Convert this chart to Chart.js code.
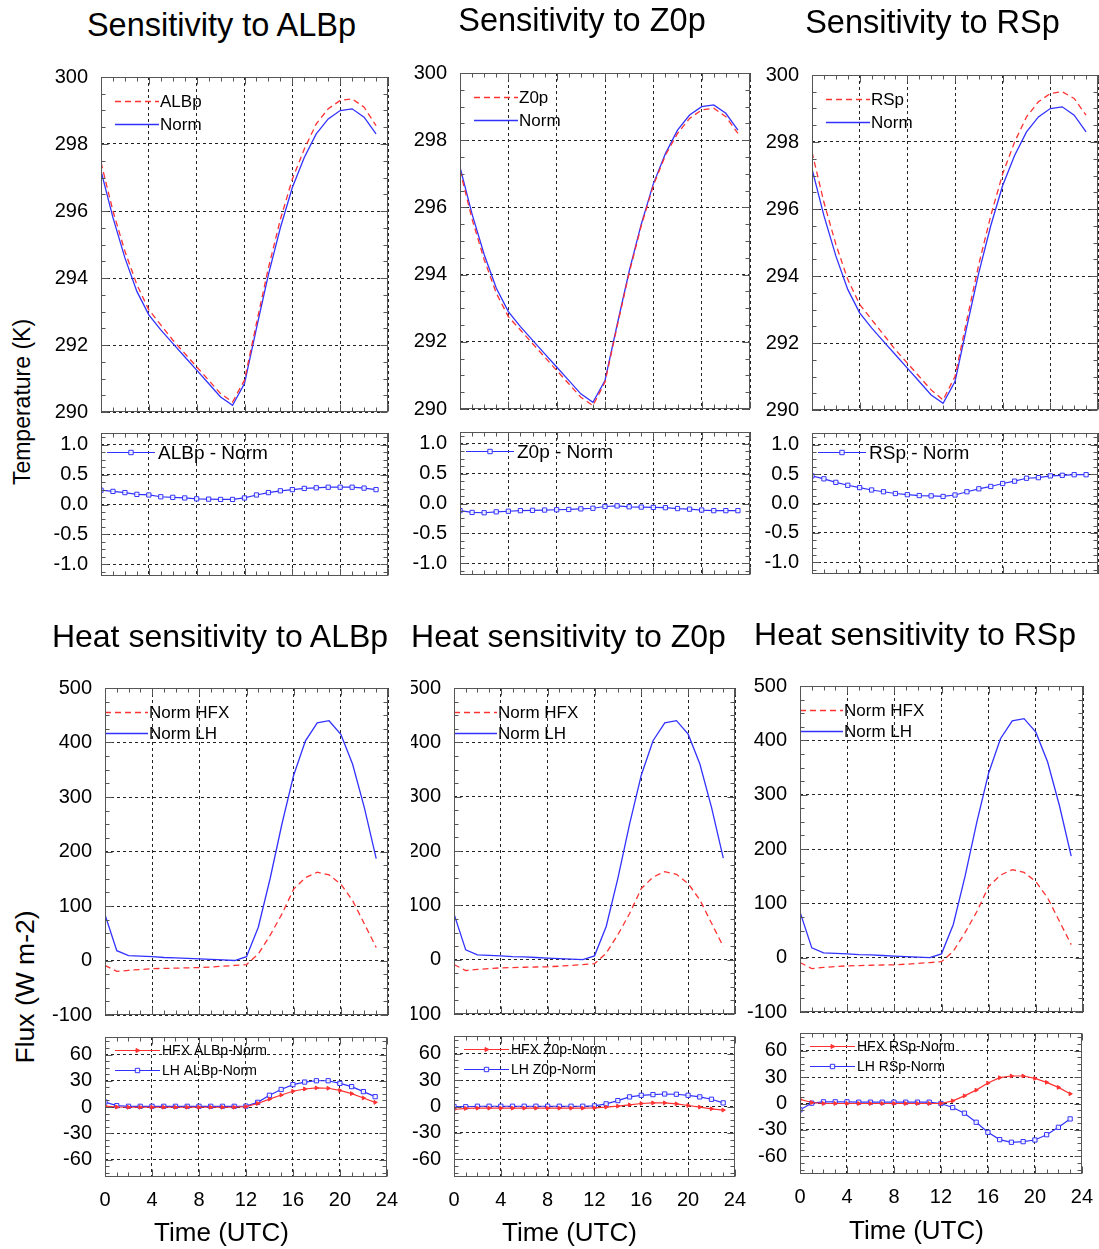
<!DOCTYPE html>
<html><head><meta charset="utf-8">
<script src="https://cdn.jsdelivr.net/npm/chart.js@4.4.1/dist/chart.umd.min.js"></script>
<style>
html,body{margin:0;padding:0;overflow:hidden;background:#fff;}
body{width:1099px;height:1249px;position:relative;font-family:"Liberation Sans",Arial,Helvetica,sans-serif;}
.txt{position:absolute;white-space:nowrap;line-height:1;color:#000;transform:translate(-50%,-50%);}
.rot{transform:translate(-50%,-50%) rotate(-90deg);}
</style></head><body>
<script>
// ---------------- data ----------------
const hours = [0,1,2,3,4,5,6,7,8,9,10,11,12,13,14,15,16,17,18,19,20,21,22,23];

const normT2 = [297.2,295.8,294.6,293.6,292.9,292.45,292.05,291.65,291.25,290.85,290.45,290.2,290.85,292.5,294.1,295.5,296.7,297.6,298.3,298.75,299.0,299.05,298.8,298.3];
const albpT2 = [297.45,296.0,294.8,293.8,293.05,292.6,292.15,291.75,291.35,290.95,290.55,290.3,290.95,292.65,294.3,295.75,296.95,297.85,298.6,299.05,299.3,299.35,299.1,298.55];
const z0pT2  = [297.1,295.65,294.45,293.45,292.75,292.35,291.95,291.55,291.15,290.75,290.35,290.1,290.8,292.45,294.05,295.45,296.65,297.55,298.2,298.65,298.9,298.95,298.7,298.2];
const rspT2  = [297.7,296.2,294.95,293.9,293.15,292.7,292.25,291.8,291.4,291.0,290.6,290.3,291.0,292.7,294.35,295.8,297.05,298.0,298.75,299.2,299.45,299.5,299.3,298.8];

const albpDiff = [0.24,0.22,0.20,0.17,0.16,0.13,0.12,0.11,0.095,0.09,0.085,0.085,0.11,0.16,0.20,0.23,0.25,0.27,0.28,0.29,0.29,0.29,0.275,0.25];
const z0pDiff  = [-0.12,-0.15,-0.155,-0.14,-0.13,-0.12,-0.115,-0.11,-0.105,-0.10,-0.09,-0.08,-0.05,-0.04,-0.055,-0.06,-0.065,-0.07,-0.085,-0.095,-0.11,-0.12,-0.12,-0.12];
const rspDiff  = [0.47,0.42,0.36,0.31,0.27,0.23,0.20,0.17,0.15,0.135,0.13,0.12,0.145,0.20,0.25,0.29,0.34,0.38,0.43,0.44,0.47,0.48,0.49,0.49];

const normHFX = [-9,-20,-18,-16.5,-15,-14.5,-14,-13.5,-13,-12,-10.5,-9,-7.5,12,46,85,131,152,162,157,140,110,67,24];
const normLH  = [84,18,9,8,7,5.5,5,4,3,2,1,0,7,61,150,250,340,403,436,440,415,360,280,187];

const hfxAlbpDiff = [1,0,-0.3,-0.3,-0.3,-0.3,-0.3,-0.3,-0.3,-0.3,-0.3,-0.3,0.4,4,9,13.7,18,20.6,21.8,21.4,19,15.3,10.3,5.3];
const lhAlbpDiff  = [5.7,1.5,0.8,0.8,0.8,0.8,0.8,0.8,0.8,0.8,0.8,0.8,1,5.3,13.4,20,25.6,28.5,30,30,27,23.3,17.6,11.8];
const hfxZ0pDiff  = [-3.4,-2.2,-1.9,-1.9,-1.9,-1.9,-1.9,-1.9,-1.9,-1.9,-1.9,-1.9,-1.5,-0.7,0.4,1.9,3.4,4.1,4.1,3,1.1,-0.7,-2.6,-4.1];
const lhZ0pDiff   = [0,-0.3,0.3,0.3,0.3,0.3,0.3,0.3,0.3,0.3,0.3,0.3,0.7,3,6.7,10.9,12.7,13.5,14.2,13.9,12.7,10.9,8.2,4.1];
const hfxRspDiff  = [4.6,1.1,0,0,0,0,0,0,0,0,0,0,0,3,8.7,15.2,23.2,29.3,31.2,31.2,28.5,24,18.3,11];
const lhRspDiff   = [-7.2,0.4,1.9,1.9,1.9,1.5,1.5,1.5,1.5,1.5,1.5,1.5,0,-4.6,-11,-21.3,-32.7,-41,-44,-43.3,-41.4,-35.4,-27,-17.5];

const xTicks = [0,4,8,12,16,20,24];
const xTickLabels = ['0','4','8','12','16','20','24'];
const tempTicks = [290,292,294,296,298,300];
const tempTickLabels = ['290','292','294','296','298','300'];
const tdiffTicks = [-1.0,-0.5,0.0,0.5,1.0];
const tdiffTickLabels = ['-1.0','-0.5','0.0','0.5','1.0'];
const fluxTicks = [-100,0,100,200,300,400,500];
const fluxTickLabels = ['-100','0','100','200','300','400','500'];
const fdiffTicks = [-60,-30,0,30,60];
const fdiffTickLabels = ['-60','-30','0','30','60'];

// ---------------- styling / helpers ----------------
const FONT = '"Liberation Sans", Arial, Helvetica, sans-serif';
Chart.defaults.font.family = FONT;
Chart.defaults.color = '#000';
const RED = 'rgb(255,50,50)', BLUE = 'rgb(50,50,255)';

function pts(vals){ return hours.map((h,i)=>({x:h, y:vals[i]})); }
function dashedLine(label, vals, color){ return {label, data:pts(vals), borderColor:color, borderWidth:1.3, borderDash:[6,4], pointRadius:0, fill:false, tension:0}; }
function solidLine(label, vals, color){ return {label, data:pts(vals), borderColor:color, borderWidth:1.3, pointRadius:0, fill:false, tension:0}; }
function squareLine(label, vals, color){ return {label, data:pts(vals), borderColor:color, borderWidth:1.2, pointRadius:3, pointStyle:'rect', pointBackgroundColor:'rgba(255,255,255,0.85)', pointBorderColor:color, pointBorderWidth:1, fill:false, tension:0, mk:'sq'}; }
function triLine(label, vals, color){ return {label, data:pts(vals), borderColor:color, borderWidth:1.2, pointRadius:2.2, pointStyle:'triangle', pointRotation:90, pointBackgroundColor:color, pointBorderColor:color, pointBorderWidth:1, fill:false, tension:0, mk:'tri'}; }

const framePlugin = {
  id:'frame',
  afterDraw(chart, args, o){
    const {ctx, chartArea:a} = chart; const xs = chart.scales.x, ys = chart.scales.y;
    ctx.save();
    ctx.strokeStyle = '#555'; ctx.lineWidth = 1; ctx.setLineDash([]);
    const L = Math.round(a.left)+0.5, R = Math.round(a.right)-0.5, T = Math.round(a.top)+0.5, B = Math.round(a.bottom)-0.5;
    ctx.strokeRect(L, T, R-L, B-T);
    const marks = (s, minor, major) => { const out=[]; const k0=Math.ceil(s.min/minor-1e-6), k1=Math.floor(s.max/minor+1e-6);
      for(let k=k0;k<=k1;k++){ const v=k*minor, r=v/major; out.push({p:s.getPixelForValue(v), maj:Math.abs(r-Math.round(r))<1e-6}); } return out; };
    ctx.beginPath();
    for(const m of marks(xs, o.xMinor, o.xMajor)){ const len=m.maj?7:4; const p=Math.round(m.p)+0.5; ctx.moveTo(p,B); ctx.lineTo(p,B-len); ctx.moveTo(p,T); ctx.lineTo(p,T+len); }
    for(const m of marks(ys, o.yMinor, o.yMajor)){ const len=m.maj?7:4; const p=Math.round(m.p)+0.5; ctx.moveTo(L,p); ctx.lineTo(L+len,p); ctx.moveTo(R,p); ctx.lineTo(R-len,p); }
    ctx.stroke(); ctx.restore();
  }
};
function drawMarker(ctx, ds, x, y){
  ctx.save(); ctx.setLineDash([]); ctx.lineWidth=1; ctx.strokeStyle=ds.pointBorderColor; ctx.fillStyle=ds.pointBackgroundColor;
  if(ds.mk==='sq'){ const s=2.2; ctx.beginPath(); ctx.rect(x-s,y-s,2*s,2*s); ctx.fill(); ctx.stroke(); }
  else if(ds.mk==='tri'){ ctx.beginPath(); ctx.moveTo(x+2.5,y); ctx.lineTo(x-1.5,y-2); ctx.lineTo(x-1.5,y+2); ctx.closePath(); ctx.fill(); ctx.stroke(); }
  ctx.restore();
}
const legendPlugin = {
  id:'inlegend',
  afterDatasetsDraw(chart, args, o){
    const {ctx, chartArea:a} = chart;
    ctx.save();
    chart.data.datasets.forEach((ds,i)=>{
      const y = Math.round(a.top + o.dy + i*o.row)+0.5, x0 = a.left + o.dx, x1 = x0 + o.len;
      ctx.strokeStyle = ds.borderColor; ctx.lineWidth = ds.borderWidth; ctx.setLineDash(ds.borderDash||[]);
      ctx.beginPath(); ctx.moveTo(x0,y); ctx.lineTo(x1,y); ctx.stroke(); ctx.setLineDash([]);
      if(ds.mk) drawMarker(ctx, ds, (x0+x1)/2, y);
      ctx.font = o.size+'px '+FONT; ctx.fillStyle='#000'; ctx.textBaseline='middle'; ctx.textAlign='left';
      ctx.fillText(ds.label, x1 + o.gap, y+1);
    });
    ctx.restore();
  }
};

// ---------------- panels ----------------
const T = {min:290,max:300,ticks:tempTicks,labels:tempTickLabels,minor:0.5,major:2};
const TD = {min:-1.2,max:1.2,ticks:tdiffTicks,labels:tdiffTickLabels,minor:0.125,major:0.5};
const F = {min:-100,max:500,ticks:fluxTicks,labels:fluxTickLabels,minor:25,major:100};
const FD = {min:-80,max:80,ticks:fdiffTicks,labels:fdiffTickLabels,minor:7.5,major:30};
const LT = {dx:14,dy:24,row:23,len:44,gap:1,size:17};
const LTD = {dx:6,dy:19,row:0,len:48,gap:3,size:19};
const LF = {dx:0,dy:24,row:21,len:43,gap:1,size:17};
const LFD = {dx:10,dy:13,row:20,len:45,gap:2,size:14};

const panels = [
  {box:{l:101,t:77,r:388,b:412}, y:T, lg:LT, ds:()=>[dashedLine('ALBp',albpT2,RED), solidLine('Norm',normT2,BLUE)]},
  {box:{l:460,t:73,r:750,b:409}, y:T, lg:LT, ds:()=>[dashedLine('Z0p',z0pT2,RED), solidLine('Norm',normT2,BLUE)]},
  {box:{l:812,t:75,r:1098,b:410}, y:T, lg:LT, ds:()=>[dashedLine('RSp',rspT2,RED), solidLine('Norm',normT2,BLUE)]},
  {box:{l:101,t:433,r:388,b:576}, y:TD, lg:LTD, ds:()=>[squareLine('ALBp - Norm',albpDiff,BLUE)]},
  {box:{l:460,t:432,r:750,b:575}, y:TD, lg:LTD, ds:()=>[squareLine('Z0p - Norm',z0pDiff,BLUE)]},
  {box:{l:812,t:433,r:1098,b:574}, y:TD, lg:LTD, ds:()=>[squareLine('RSp - Norm',rspDiff,BLUE)]},
  {box:{l:105,t:688,r:388,b:1015}, y:F, lg:LF, ds:()=>[dashedLine('Norm HFX',normHFX,RED), solidLine('Norm LH',normLH,BLUE)]},
  {box:{l:454,t:688,r:735,b:1014}, y:F, lg:LF, yw:43, ds:()=>[dashedLine('Norm HFX',normHFX,RED), solidLine('Norm LH',normLH,BLUE)]},
  {box:{l:800,t:686,r:1083,b:1012}, y:F, lg:LF, ds:()=>[dashedLine('Norm HFX',normHFX,RED), solidLine('Norm LH',normLH,BLUE)]},
  {box:{l:105,t:1037,r:387,b:1177}, y:FD, lg:LFD, xl:true, ds:()=>[triLine('HFX ALBp-Norm',hfxAlbpDiff,RED), squareLine('LH ALBp-Norm',lhAlbpDiff,BLUE)]},
  {box:{l:454,t:1036,r:735,b:1177}, y:FD, lg:LFD, xl:true, ds:()=>[triLine('HFX Z0p-Norm',hfxZ0pDiff,RED), squareLine('LH Z0p-Norm',lhZ0pDiff,BLUE)]},
  {box:{l:800,t:1033,r:1082,b:1174}, y:FD, lg:LFD, xl:true, ds:()=>[triLine('HFX RSp-Norm',hfxRspDiff,RED), squareLine('LH RSp-Norm',lhRspDiff,BLUE)]},
];

function config(p, padT, padR, padB, xh, yw){
  return {
    type:'line',
    data:{datasets:p.ds()},
    plugins:[framePlugin, legendPlugin],
    options:{
      responsive:false, animation:false, devicePixelRatio:1,
      layout:{padding:{left:0,top:padT,right:padR,bottom:padB}},
      plugins:{legend:{display:false}, tooltip:{enabled:false}, title:{display:false},
        frame:{xMinor:1,xMajor:4,yMinor:p.y.minor,yMajor:p.y.major}, inlegend:p.lg},
      scales:{
        x:{type:'linear', min:0, max:24,
          afterBuildTicks:s=>{ s.ticks = xTicks.map(v=>({value:v})); },
          afterFit:s=>{ s.height = xh; },
          ticks:{display:!!p.xl, autoSkip:false, maxRotation:0, padding:11, font:{size:20}, color:'#000', callback:(v,i)=>xTickLabels[i]},
          grid:{color:'#222', lineWidth:1, drawTicks:false}, border:{display:false, dash:[3,3]}},
        y:{type:'linear', min:p.y.min, max:p.y.max,
          afterBuildTicks:s=>{ s.ticks = p.y.ticks.map(v=>({value:v})); },
          afterFit:s=>{ s.width = yw; },
          ticks:{autoSkip:false, padding:13, font:{size:20}, color:'#000', callback:(v,i)=>p.y.labels[i]},
          grid:{color:'#222', lineWidth:1, drawTicks:false}, border:{display:false, dash:[3,3]}}
      }
    }
  };
}
function place(w,h,left,top){
  const c=document.createElement('canvas'); c.width=w; c.height=h;
  c.style.cssText=`position:absolute;left:${left}px;top:${top}px;width:${w}px;height:${h}px;`;
  document.body.appendChild(c); return c;
}
function makeChart(p){
  const padT=16, padR=20, padB=p.xl?0:16, xh=p.xl?44:0, yw=p.yw||60;
  const pw=p.box.r-p.box.l, ph=p.box.b-p.box.t;
  let w=pw+yw+padR, h=ph+padT+padB+xh;
  let c=place(w,h,p.box.l-yw,p.box.t-padT);
  let ch=new Chart(c, config(p,padT,padR,padB,xh,yw));
  const a=ch.chartArea;
  // measure where the library put the plot area and shift the canvas so it lands on the target box
  const eL=a.left-yw, eT=a.top-padT, eR=(w-padR)-a.right, eB=(h-padB-xh)-a.bottom;
  if(Math.abs(eL)+Math.abs(eT)+Math.abs(eR)+Math.abs(eB)>0.5){
    ch.destroy(); c.remove();
    w=w+eL+eR; h=h+eT+eB;
    c=place(Math.round(w),Math.round(h),Math.round(p.box.l-yw-eL),Math.round(p.box.t-padT-eT));
    ch=new Chart(c, config(p,padT,padR,padB,xh,yw));
  }
}
panels.forEach(makeChart);

// ---------------- text ----------------
const texts = [
  ['Sensitivity to ALBp',221.5,25,32.5,false],
  ['Sensitivity to Z0p',582,20,32.5,false],
  ['Sensitivity to RSp',932.5,22,32.5,false],
  ['Heat sensitivity to ALBp',220,636,32,false],
  ['Heat sensitivity to Z0p',568.5,636,32,false],
  ['Heat sensitivity to RSp',915,634,32,false],
  ['Time (UTC)',221.5,1232,26,false],
  ['Time (UTC)',569.5,1232,26,false],
  ['Time (UTC)',916.5,1230,26,false],
  ['Temperature (K)',22,402,23,true],
  ['Flux (W m-2)',25,987,26.5,true],
];
texts.forEach(([s,x,y,sz,rot])=>{
  const d=document.createElement('div'); d.className='txt'+(rot?' rot':''); d.textContent=s;
  d.style.left=x+'px'; d.style.top=y+'px'; d.style.fontSize=sz+'px';
  document.body.appendChild(d);
});
</script>
</body></html>
